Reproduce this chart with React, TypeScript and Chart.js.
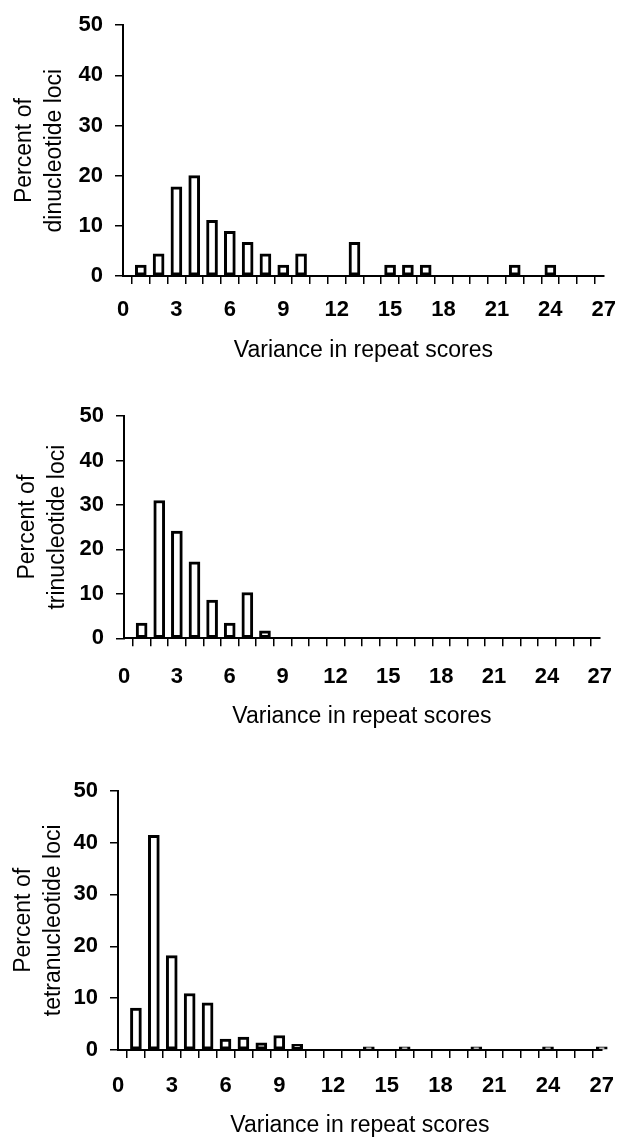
import React, { useEffect, useRef } from 'react';
import { Chart, registerables } from 'chart.js';

Chart.register(...registerables);

// ---------- data ----------
const X_TICK_LABELS = [0, 3, 6, 9, 12, 15, 18, 21, 24, 27];
const Y_TICK_STEP = 10;
const X_TITLE = 'Variance in repeat scores';

const diVariance = [1, 2, 3, 4, 5, 6, 7, 8, 9, 10, 13, 15, 16, 17, 22, 24];
const diPercent = [2.2, 4.4, 17.8, 20.0, 11.1, 8.9, 6.7, 4.4, 2.2, 4.4, 6.7, 2.2, 2.2, 2.2, 2.2, 2.2];
const diTitle = ['Percent of', 'dinucleotide loci'];

const triVariance = [1, 2, 3, 4, 5, 6, 7, 8];
const triPercent = [3.4, 31.0, 24.1, 17.2, 8.6, 3.4, 10.3, 1.7];
const triTitle = ['Percent of', 'trinucleotide loci'];

const tetraVariance = [1, 2, 3, 4, 5, 6, 7, 8, 9, 10, 14, 16, 20, 24, 27];
const tetraPercent = [8.1, 41.4, 18.2, 10.9, 9.1, 2.1, 2.5, 1.4, 2.8, 1.1, 0.6, 0.6, 0.6, 0.6, 0.6];
const tetraTitle = ['Percent of', 'tetranucleotide loci'];

// ---------- layout ----------
const W = 629;
const FONT = "'Liberation Sans', Arial, Helvetica, sans-serif";
const TICK_SIZE = 22;
const TITLE_SIZE = 23;

type Panel = {
  top: number; height: number;
  left: number; right: number;
  areaTop: number; areaBottom: number;
  tickPad: number; titlePadBottom: number; yTitlePad: number;
  titleLines: string[]; xs: number[]; ys: number[];
};

const panels: Panel[] = [
  { top: 0, height: 375, left: 123, right: 605, areaTop: 22.5, areaBottom: 276,
    tickPad: 13, titlePadBottom: 11, yTitlePad: 10, titleLines: diTitle, xs: diVariance, ys: diPercent },
  { top: 375, height: 375, left: 124, right: 605.5, areaTop: 41, areaBottom: 263.3,
    tickPad: 17, titlePadBottom: 20, yTitlePad: 13, titleLines: triTitle, xs: triVariance, ys: triPercent },
  { top: 750, height: 389, left: 118, right: 613.3, areaTop: 40.7, areaBottom: 300,
    tickPad: 15, titlePadBottom: 0, yTitlePad: 9, titleLines: tetraTitle, xs: tetraVariance, ys: tetraPercent },
];

function makeConfig(p: Panel): any {
  return {
    type: 'bar',
    data: {
      datasets: [{
        data: p.xs.map((x, i) => ({ x, y: p.ys[i] })),
        backgroundColor: '#ffffff',
        borderColor: '#000000',
        borderWidth: 3,
        borderSkipped: false,
        barThickness: 11,
        clip: false,
      }],
    },
    options: {
      animation: false,
      responsive: false,
      events: [],
      layout: { padding: { top: p.areaTop, right: W - p.right, bottom: 0, left: 0 } },
      plugins: { legend: { display: false }, tooltip: { enabled: false } },
      scales: {
        x: {
          type: 'linear',
          min: 0,
          max: 27,
          offset: false,
          grid: { drawOnChartArea: false, drawTicks: true, tickLength: 8, color: '#000', lineWidth: 1.5 },
          border: { display: true, color: '#000', width: 2 },
          ticks: {
            stepSize: 1,
            maxTicksLimit: 100,
            autoSkip: false,
            maxRotation: 0,
            minRotation: 0,
            padding: p.tickPad,
            color: '#000',
            font: { family: FONT, size: TICK_SIZE, weight: 'bold' },
            callback: (v: number) => (X_TICK_LABELS.includes(v) ? String(v) : ''),
          },
          title: {
            display: true,
            text: X_TITLE,
            color: '#000',
            font: { family: FONT, size: TITLE_SIZE },
            padding: { top: 0, bottom: p.titlePadBottom },
          },
          afterFit: (s: any) => { s.height = p.height - p.areaBottom; },
        },
        y: {
          min: 0,
          max: 50,
          grid: { drawOnChartArea: false, drawTicks: true, tickLength: 8, color: '#000', lineWidth: 1.5 },
          border: { display: true, color: '#000', width: 2 },
          ticks: {
            stepSize: Y_TICK_STEP,
            padding: 12,
            color: '#000',
            font: { family: FONT, size: TICK_SIZE, weight: 'bold' },
          },
          title: {
            display: true,
            text: p.titleLines,
            color: '#000',
            font: { family: FONT, size: TITLE_SIZE, lineHeight: 1.3 },
            padding: { top: p.yTitlePad, bottom: 0 },
          },
          afterFit: (s: any) => { s.width = p.left; },
        },
      },
    },
  };
}

function PanelChart({ p }: { p: Panel }) {
  const ref = useRef<HTMLCanvasElement | null>(null);
  useEffect(() => {
    if (!ref.current) return;
    const chart = new Chart(ref.current, makeConfig(p));
    return () => chart.destroy();
  }, [p]);
  return (
    <div style={{ position: 'absolute', left: 0, top: p.top, width: W, height: p.height }}>
      <canvas ref={ref} width={W} height={p.height} style={{ display: 'block', width: W, height: p.height }} />
    </div>
  );
}

export default function App() {
  return (
    <div style={{ position: 'absolute', left: 0, top: 0, width: W, height: 1139, background: '#fff' }}>
      {panels.map((p, i) => <PanelChart key={i} p={p} />)}
    </div>
  );
}
